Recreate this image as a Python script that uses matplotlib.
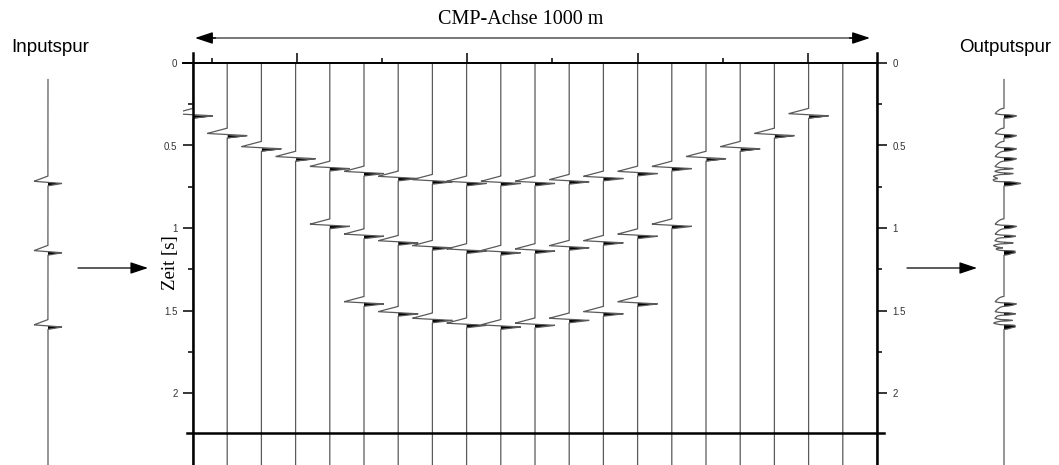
import numpy as np
import matplotlib
matplotlib.use("Agg")
import matplotlib.pyplot as plt
from matplotlib.patches import FancyArrowPatch

W, H = 1059, 465

# CMP trace positions [m]
OFFSETS = [0, 50, 100, 150, 200, 250, 300, 350, 400, 450, 500,
           550, 600, 650, 700, 750, 800, 850, 900, 950, 1000]

# reflection times [s] per trace index
EV1_TRACES = [0, 1, 2, 3, 4, 5, 6, 7, 8, 9, 10, 11, 12, 13, 14, 15, 16, 17, 18]
EV1_TIMES = [0.32, 0.44, 0.52, 0.58, 0.64, 0.67, 0.70, 0.72, 0.73, 0.73,
             0.73, 0.72, 0.70, 0.67, 0.64, 0.58, 0.52, 0.44, 0.32]
EV2_TRACES = [4, 5, 6, 7, 8, 9, 10, 11, 12, 13, 14]
EV2_TIMES = [0.99, 1.05, 1.09, 1.12, 1.14, 1.15, 1.14, 1.12, 1.09, 1.05, 0.99]
EV3_TRACES = [5, 6, 7, 8, 9, 10, 11, 12, 13]
EV3_TIMES = [1.46, 1.52, 1.56, 1.59, 1.60, 1.59, 1.56, 1.52, 1.46]

INPUT_TIMES = [0.73, 1.15, 1.60]

Y_TICKS = [0, 0.5, 1, 1.5, 2]
Y_TICKLABELS = ["0", "0.5", "1", "1.5", "2"]
Y_MINOR = [0.25, 0.75, 1.25, 1.75]
X_MAJOR = [152, 400, 650, 899]
X_MINOR = [28, 276, 525, 775]
BASE_LINE_T = 2.242

# wavelet shape (time relative to peak [s], normalised amplitude)
WAVELET_T = [-0.045, -0.013, 0.0, 0.014]
WAVELET_A = [0.0, -1.0, 1.0, 0.0]

PX_PER_M = 0.684
PX_PER_S = 165.0
T_BOTTOM = 402 / PX_PER_S
T_TOP = -10 / PX_PER_S

TRACE_COLOR = "#5a5a5a"


def wavelet(t):
    return np.interp(t, WAVELET_T, WAVELET_A, left=0.0, right=0.0)


def draw_trace(ax, x0, t, amp, scale, lw=0.9):
    x = x0 + amp * scale
    ax.plot(x, t, color=TRACE_COLOR, lw=lw, solid_joinstyle="miter")
    ax.fill_betweenx(t, x0, x, where=amp > 0, interpolate=True,
                     color="black", lw=0)


t = np.arange(0.0, T_BOTTOM, 0.0004)

events = {i: [] for i in range(len(OFFSETS))}
for trs, tms in [(EV1_TRACES, EV1_TIMES), (EV2_TRACES, EV2_TIMES),
                 (EV3_TRACES, EV3_TIMES)]:
    for i, tau in zip(trs, tms):
        events[i].append(tau)

fig = plt.figure(figsize=(W / 100, H / 100), dpi=100)

# ---- main CMP panel
ax = fig.add_axes([183 / W, 0, 704 / W, 412 / H])
ax.set_xlim(-10 / PX_PER_M, 1000 + 10 / PX_PER_M)
ax.set_ylim(T_BOTTOM, T_TOP)
ax.patch.set_alpha(0)

stack = np.zeros_like(t)
for i, x0 in enumerate(OFFSETS):
    amp = np.zeros_like(t)
    for tau in events[i]:
        amp += wavelet(t - tau)
    stack += amp
    draw_trace(ax, x0, t, amp, 20 / PX_PER_M)

ax.spines["bottom"].set_visible(False)
ax.spines["left"].set_position(("data", 0))
ax.spines["right"].set_position(("data", 1000))
ax.spines["top"].set_position(("data", 0))
ax.spines["top"].set_bounds(-10 / PX_PER_M, 1000)
ax.spines["left"].set_linewidth(1.8)
ax.spines["right"].set_linewidth(1.8)
ax.spines["top"].set_linewidth(1.4)
for s in ax.spines.values():
    s.set_zorder(5)

ax.set_xticks(X_MAJOR)
ax.set_xticks(X_MINOR, minor=True)
ax.set_yticks(Y_TICKS)
ax.set_yticklabels(Y_TICKLABELS)
ax.set_yticks(Y_MINOR, minor=True)
ax.tick_params(axis="x", which="both", top=True, bottom=False,
               labeltop=False, labelbottom=False, direction="out", width=1.1)
ax.tick_params(axis="y", which="both", left=True, right=True,
               labelleft=True, labelright=True, direction="out", width=1.1)
ax.tick_params(which="major", length=7.2)
ax.tick_params(which="minor", length=3.6)
ax.tick_params(axis="y", labelsize=7, labelcolor="#333333", pad=4)
for lab in ax.get_yticklabels():
    lab.set_fontfamily("Liberation Sans")

ax.plot([-6 / PX_PER_M, 1000 + 7 / PX_PER_M], [BASE_LINE_T, BASE_LINE_T],
        color="black", lw=1.8, clip_on=False, zorder=6)

# CMP axis arrow
t_arr = -25 / PX_PER_S
x_a, x_b = 2 / PX_PER_M, 1000 - 7 / PX_PER_M
ax.plot([x_a + 10, x_b - 10], [t_arr, t_arr], color="#777777", lw=1.4,
        clip_on=False)
head = dict(arrowstyle="-|>,head_length=0.54,head_width=0.18",
            mutation_scale=20, color="black", lw=1.0, shrinkA=0, shrinkB=0)
ax.annotate("", xy=(x_a, t_arr), xytext=(x_a + 30, t_arr),
            arrowprops=head, annotation_clip=False)
ax.annotate("", xy=(x_b, t_arr), xytext=(x_b - 30, t_arr),
            arrowprops=head, annotation_clip=False)

# ---- input trace
ax_in = fig.add_axes([28 / W, 0, 40 / W, 412 / H])
ax_in.set_xlim(-20, 20)
ax_in.set_ylim(T_BOTTOM, T_TOP)
ax_in.axis("off")
t_in = t[t >= 0.10]
amp_in = np.zeros_like(t_in)
for tau in INPUT_TIMES:
    amp_in += wavelet(t_in - tau)
draw_trace(ax_in, 0, t_in, amp_in, 14)

# ---- output trace (plain stack, no NMO)
ax_out = fig.add_axes([979 / W, 0, 50 / W, 412 / H])
ax_out.set_xlim(-25, 25)
ax_out.set_ylim(T_BOTTOM, T_TOP)
ax_out.axis("off")
keep = t >= 0.10
out = np.sign(stack) * np.sqrt(np.abs(stack))
out = out[keep] / np.abs(out).max()
out = np.where(out < 0, 0.7 * out, out)
draw_trace(ax_out, 0, t[keep], out, 17)

# ---- arrows between panels
side = dict(arrowstyle="-|>,head_length=0.54,head_width=0.18",
            mutation_scale=20, color="black", lw=0.9, shrinkA=0, shrinkB=0)
fig.add_artist(FancyArrowPatch((78, H - 268), (148, H - 268),
                               transform=None, **side))
fig.add_artist(FancyArrowPatch((907, H - 268), (977, H - 268),
                               transform=None, **side))

# ---- texts
fig.text(521 / W, 1 - 20 / H, "CMP-Achse 1000 m", ha="center", va="center",
         family="Liberation Serif", fontsize=14.5)
fig.text(171 / W, 1 - 263 / H, "Zeit [s]", ha="center", va="center",
         rotation=90, family="Liberation Serif", fontsize=13.5)
fig.text(50 / W, 1 - 48 / H, "Inputspur", ha="center", va="center",
         family="Liberation Sans", fontsize=13.5)
fig.text(1005 / W, 1 - 48 / H, "Outputspur", ha="center", va="center",
         family="Liberation Sans", fontsize=13.5)

fig.savefig("out.png", dpi=100)
